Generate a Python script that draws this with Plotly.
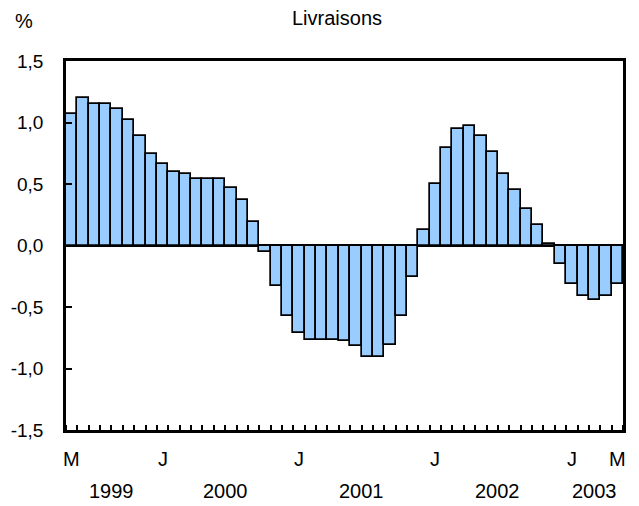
import plotly.graph_objects as go

# Monthly data, May 1999 to May 2003
values = [1.07, 1.20, 1.15, 1.15, 1.11, 1.02, 0.89, 0.74, 0.66, 0.60,
          0.58, 0.54, 0.54, 0.54, 0.47, 0.37, 0.19, -0.05, -0.33, -0.57,
          -0.71, -0.77, -0.77, -0.77, -0.78, -0.82, -0.91, -0.91, -0.81, -0.57,
          -0.26, 0.13, 0.50, 0.79, 0.95, 0.97, 0.89, 0.76, 0.58, 0.45,
          0.30, 0.17, 0.01, -0.15, -0.31, -0.41, -0.44, -0.41, -0.31]
years = [1999] * 8 + [2000] * 12 + [2001] * 12 + [2002] * 12 + [2003] * 5
month_labels = {0: "M", 8: "J", 20: "J", 32: "J", 44: "J", 48: "M"}
year_labels = ["1999", "2000", "2001", "2002", "2003"]
y_ticks = [-1.5, -1.0, -0.5, 0.0, 0.5, 1.0, 1.5]
y_ticktext = ["-1,5", "-1,0", "-0,5", "0,0", "0,5", "1,0", "1,5"]
title = "Livraisons"
unit = "%"

x = list(range(len(values)))
font = "Liberation Sans, Arial, sans-serif"
fs = 20

# page body has an 8px margin; figure is sized to fit the window
W, H = 631, 498
L, R, T, B = 58, 15.5, 53, 76
pw = W - L - R
ph = H - T - B

fig = go.Figure()
fig.add_trace(go.Bar(
    x=x, y=values,
    marker=dict(color="#99CCFF", line=dict(color="black", width=1.7)),
    width=1.0,
))

annotations = []
for i, lab in month_labels.items():
    annotations.append(dict(x=i, y=-29 / ph, xref="x", yref="paper", text=lab,
                            showarrow=False, xanchor="center", yanchor="middle",
                            font=dict(size=fs, color="black", family=font)))
for yl in year_labels:
    idx = [i for i, yy in enumerate(years) if str(yy) == yl]
    cx = (idx[0] + idx[-1]) / 2
    annotations.append(dict(x=cx, y=-61 / ph, xref="x", yref="paper", text=yl,
                            showarrow=False, xanchor="center", yanchor="middle",
                            font=dict(size=fs, color="black", family=font)))
annotations.append(dict(x=-42 / pw, y=1 + 40 / ph, xref="paper", yref="paper", text=unit,
                        showarrow=False, xanchor="center", yanchor="middle",
                        font=dict(size=fs, color="black", family=font)))
annotations.append(dict(x=271.5 / pw, y=1 + 43 / ph, xref="paper", yref="paper", text=title,
                        showarrow=False, xanchor="center", yanchor="middle",
                        font=dict(size=fs, color="black", family=font)))

fig.update_layout(
    width=W, height=H,
    margin=dict(l=L, r=R, t=T, b=B, pad=0, autoexpand=False),
    paper_bgcolor="white", plot_bgcolor="white",
    bargap=0,
    showlegend=False,
    font=dict(family=font, size=fs, color="black"),
    annotations=annotations,
)

fig.update_xaxes(
    range=[-0.5, len(values) - 0.5],
    automargin=False,
    showline=True, linecolor="black", linewidth=2.5, mirror=True,
    showgrid=False, zeroline=False,
    showticklabels=False, ticks="",
    minor=dict(ticks="inside", ticklen=5, tick0=-0.5, dtick=1,
               tickcolor="black", tickwidth=1.5, showgrid=False),
)
fig.update_yaxes(
    range=[-1.5, 1.5],
    automargin=False,
    showline=True, linecolor="black", linewidth=2.5, mirror=True,
    showgrid=False,
    zeroline=True, zerolinecolor="black", zerolinewidth=2.5,
    tickvals=y_ticks, ticktext=y_ticktext,
    ticks="inside", ticklen=6, tickwidth=1.5, tickcolor="black",
    ticklabelstandoff=16,
    tickfont=dict(size=19, color="black", family=font),
)

fig.write_html("out.html")
